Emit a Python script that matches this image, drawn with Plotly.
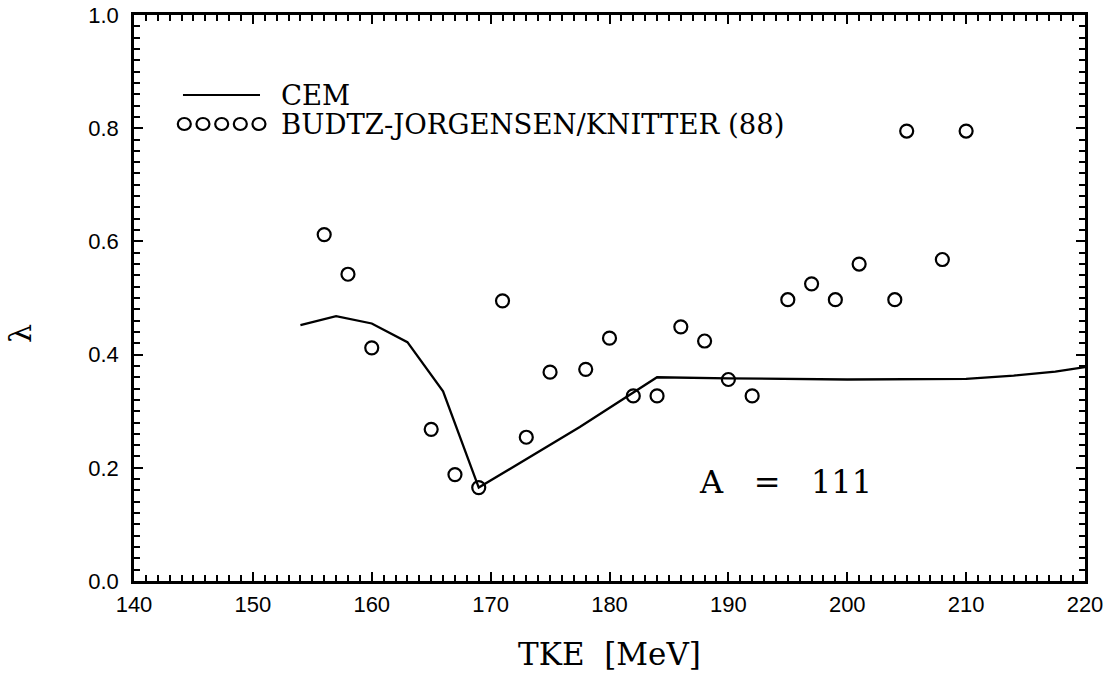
import plotly.graph_objects as go

# CEM model curve
cem_tke = [154, 157, 160, 163, 166, 169, 177.5, 184, 190, 200, 210, 214, 217.5, 220]
cem_lambda = [0.452, 0.468, 0.455, 0.422, 0.335, 0.165, 0.272, 0.36, 0.358, 0.356, 0.357, 0.363, 0.37, 0.378]

# Budtz-Jorgensen / Knitter (88) data
exp_tke = [156, 158, 160, 165, 167, 169, 171, 173, 175, 178, 180, 182, 184, 186, 188,
           190, 192, 195, 197, 199, 201, 204, 205, 208, 210]
exp_lambda = [0.612, 0.542, 0.412, 0.268, 0.188, 0.165, 0.495, 0.254, 0.369, 0.374, 0.429,
              0.327, 0.327, 0.449, 0.424, 0.356, 0.327, 0.497, 0.525, 0.497, 0.560,
              0.497, 0.795, 0.568, 0.795]

x_range = [140, 220]
y_range = [0.0, 1.0]
x_ticks = [140, 150, 160, 170, 180, 190, 200, 210, 220]
y_ticks = [0.0, 0.2, 0.4, 0.6, 0.8, 1.0]

serif = "DejaVu Serif"
sans = "Liberation Sans"

fig = go.Figure()
fig.add_trace(go.Scatter(
    x=cem_tke, y=cem_lambda, mode="lines",
    line=dict(color="black", width=2.3), showlegend=False,
))
fig.add_trace(go.Scatter(
    x=exp_tke, y=exp_lambda, mode="markers",
    marker=dict(symbol="circle-open", size=13, color="black", line=dict(width=2.2, color="black")),
    showlegend=False,
))

axis_common = dict(
    showline=True, linecolor="black", linewidth=2.5, mirror="allticks",
    ticks="inside", ticklen=9, tickwidth=2, tickcolor="black",
    showgrid=False, zeroline=False, automargin=False,
    tickfont=dict(family=sans, size=22, color="black"),
)

fig.update_xaxes(
    range=x_range, tickvals=x_ticks, ticktext=[str(v) for v in x_ticks],
    minor=dict(dtick=1, ticks="inside", ticklen=6, tickwidth=1.8, tickcolor="black", showgrid=False),
    ticklabelstandoff=2,
    title=dict(text="TKE  [MeV]", font=dict(family=serif, size=31, color="black"), standoff=28),
    **axis_common,
)
fig.update_yaxes(
    range=y_range, tickvals=y_ticks, ticktext=[f"{v:.1f}" for v in y_ticks],
    minor=dict(dtick=0.02, ticks="inside", ticklen=6, tickwidth=1.8, tickcolor="black", showgrid=False),
    ticklabelstandoff=8,
    **axis_common,
)

# hand-built legend key
shapes = [dict(type="line", xref="paper", yref="paper", x0=0.0515, x1=0.1325,
               y0=0.8587, y1=0.8587, line=dict(color="black", width=2.2))]
for cx in [0.0529, 0.0725, 0.0922, 0.1118, 0.1314]:
    shapes.append(dict(type="circle", xref="paper", yref="paper",
                       xsizemode="pixel", ysizemode="pixel", xanchor=cx, yanchor=0.8074,
                       x0=-6.5, x1=6.5, y0=-6, y1=6, line=dict(color="black", width=2.2)))

annotations = [
    dict(text="CEM", x=0.1525, y=0.8587, xref="paper", yref="paper", xanchor="left",
         yanchor="middle", showarrow=False, font=dict(family=serif, size=27.5, color="black")),
    dict(text="BUDTZ-JORGENSEN/KNITTER (88)", x=0.1525, y=0.8074, xref="paper", yref="paper",
         xanchor="left", yanchor="middle", showarrow=False,
         font=dict(family=serif, size=27.5, color="black")),
    dict(text="A   =   111", x=0.592, y=0.1754, xref="paper", yref="paper", xanchor="left",
         yanchor="middle", showarrow=False, font=dict(family=serif, size=32, color="black")),
    dict(text="λ", x=-0.12, y=0.438, xref="paper", yref="paper", xanchor="center",
         yanchor="middle", showarrow=False, textangle=-90,
         font=dict(family=serif, size=30, color="black")),
]

fig.update_layout(
    width=1109, height=674,
    margin=dict(l=134, r=24, t=15, b=93),
    paper_bgcolor="white", plot_bgcolor="white",
    shapes=shapes, annotations=annotations,
)

fig.write_html("out.html")
